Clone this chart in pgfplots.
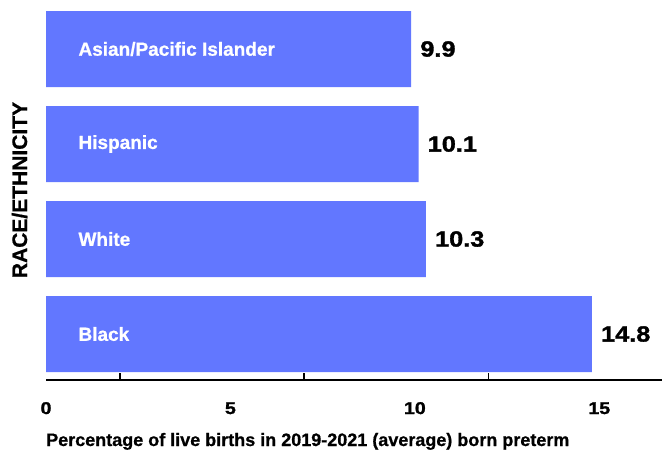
\documentclass[border=0pt]{standalone}
\usepackage{pgfplots}
\pgfplotsset{compat=1.18}
\usepackage{fontspec}
\setmainfont{Liberation Sans}[BoldFeatures={FakeBold=0.8}]
\newfontfamily\valfont{Liberation Sans}[FakeStretch=1.15, BoldFeatures={FakeBold=1.5}]
\definecolor{barblue}{RGB}{98,119,255}
\begin{document}
\begin{tikzpicture}
\begin{axis}[
  at={(0,0)}, anchor=south west,
  scale only axis, width=616bp, height=380bp,
  xbar, bar width=76bp,
  xmin=0, xmax=16.7, ymin=-0.484, ymax=3.516,
  clip=false, axis on top,
  /pgf/number format/assume math mode=true,
  axis x line*=bottom, axis y line*=left,
  x axis line style={line width=2.5bp, black},
  y axis line style={draw=none},
  xtick={2,7,12}, xticklabels={},
  xtick align=inside,
  major tick length=7bp,
  xtick style={black, line width=1.6bp},
  extra x ticks={0,5,10,15},
  extra x tick labels={0,5,10,15},
  extra x tick style={tick style={draw=none}},
  xticklabel style={font=\valfont\fontsize{17bp}{20bp}\selectfont\bfseries, anchor=base, yshift=-34bp},
  ytick={0,1,2,3},
  yticklabels={Black,White,Hispanic,Asian/Pacific Islander},
  ytick style={draw=none},
  yticklabel style={anchor=west, xshift=36bp, text=white, font=\fontsize{19bp}{22bp}\selectfont\bfseries},
  ylabel={RACE/ETHNICITY},
  ylabel style={at={(axis description cs:-0.0308,0.5)}, anchor=base, font=\fontsize{21bp}{26bp}\selectfont\bfseries},
  nodes near coords={\pgfmathprintnumber[fixed,fixed zerofill,precision=1]{\pgfplotspointmeta}},
  every node near coord/.append style={anchor=west, inner sep=0pt, xshift=9bp, text=black, font=\valfont\fontsize{22bp}{26bp}\selectfont\bfseries},
]
\addplot[fill=barblue, draw=none] coordinates {(14.8,0) (10.3,1) (10.1,2) (9.9,3)};
\node[anchor=base west, inner sep=0pt, font=\fontsize{18bp}{22bp}\selectfont\bfseries] at (axis description cs:0,-0.1737) {Percentage of live births in 2019-2021 (average) born preterm};
\end{axis}
\pgfresetboundingbox
\path[use as bounding box] (-46bp,-71bp) rectangle (616bp,380bp);
\end{tikzpicture}
\end{document}
